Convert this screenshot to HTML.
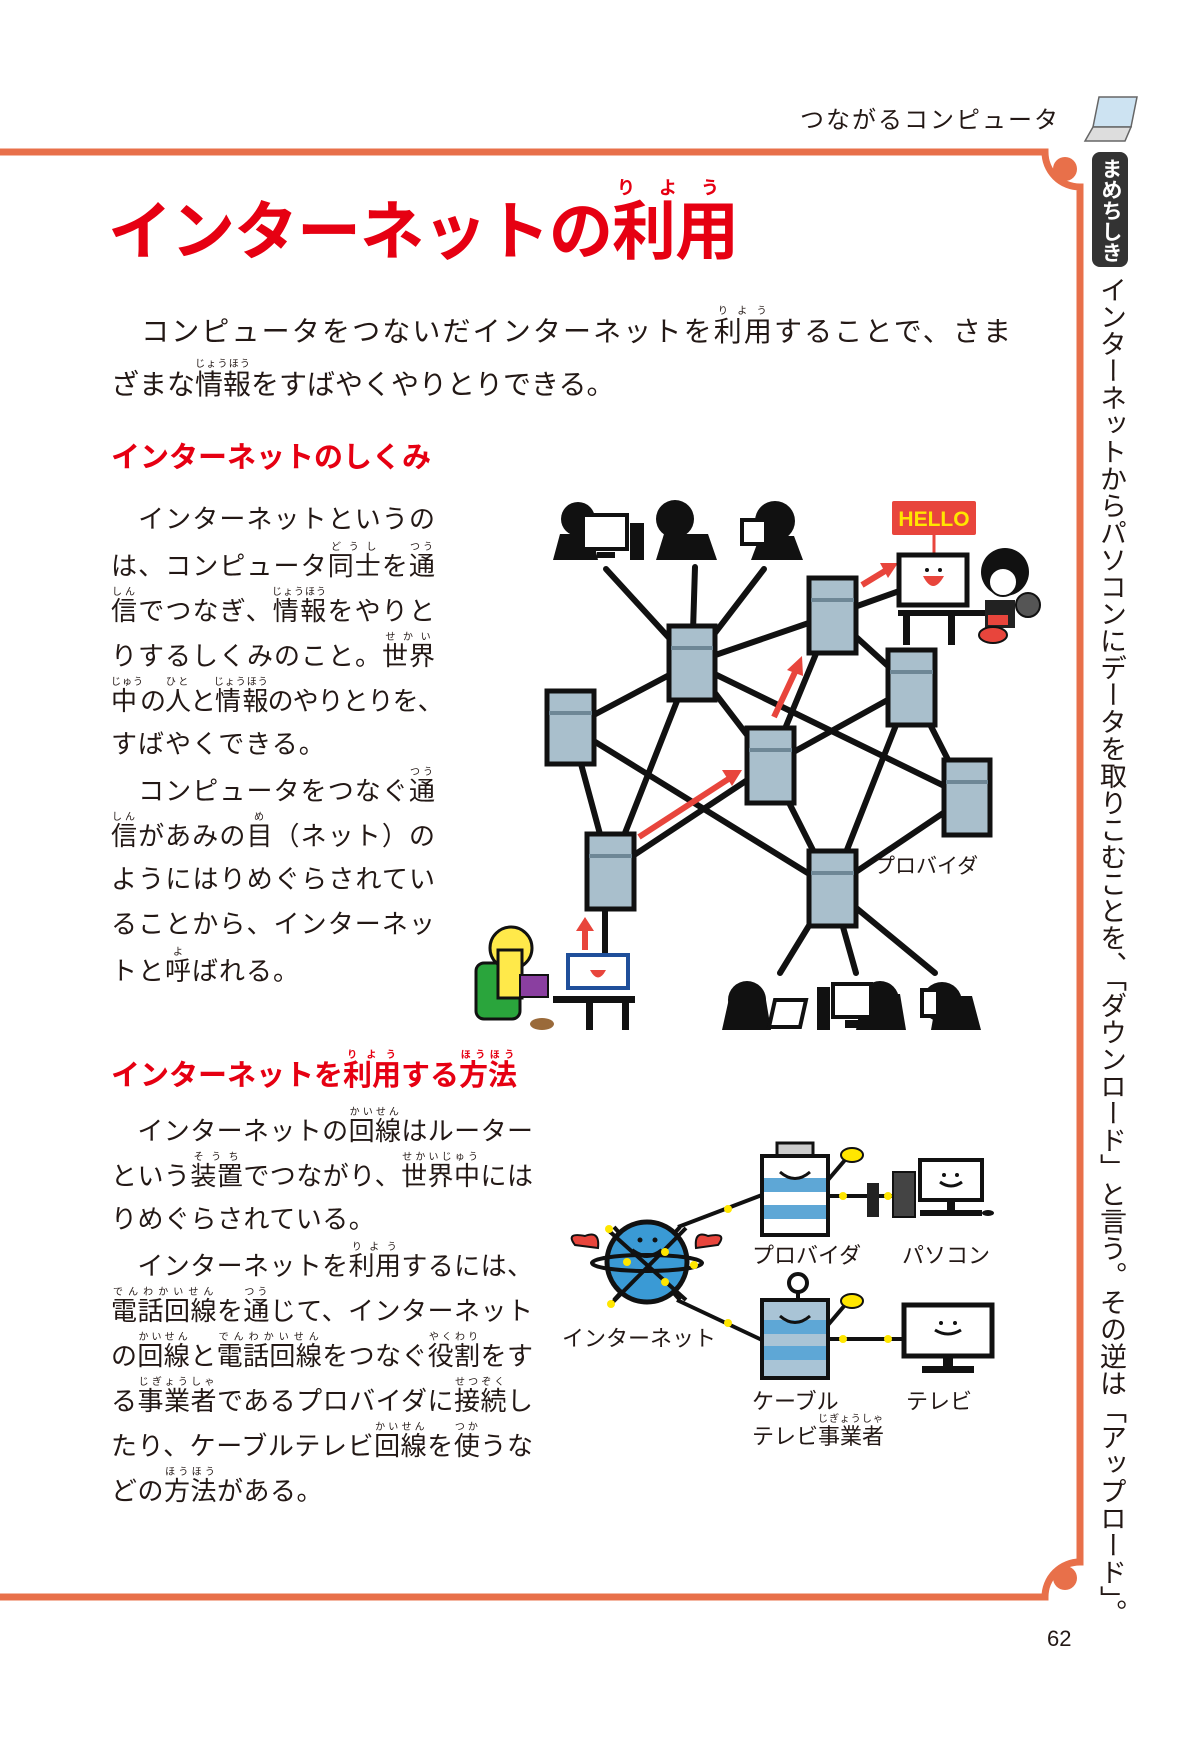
<!DOCTYPE html>
<html><head><meta charset="utf-8">
<style>
html,body{margin:0;padding:0;background:#fff;}
body{width:1200px;height:1749px;position:relative;overflow:hidden;font-family:"Liberation Sans","Noto Sans CJK JP",sans-serif;color:#231815;}
.a{position:absolute;white-space:nowrap;}
rt{font-size:10px;letter-spacing:1px;}
.t{font-size:26px;line-height:45px;letter-spacing:0;}
.j{text-align:justify;text-align-last:justify;}
.red{color:#e60012;font-weight:bold;}
</style></head><body>
<svg class="a" style="left:0;top:0" width="1200" height="1749" viewBox="0 0 1200 1749">
<path d="M0 152 H1045 A35 35 0 0 0 1080 187 V1562 A35 35 0 0 0 1045 1597 H0" fill="none" stroke="#e8704a" stroke-width="7"/>
<circle cx="1065" cy="169" r="12" fill="#e8704a"/>
<circle cx="1065" cy="1578" r="12" fill="#e8704a"/>
<rect x="1092" y="152" width="36" height="115" rx="8" fill="#333"/>
<g transform="translate(1085,95)" stroke="#666" stroke-width="1.5" fill="#cde3f2">
<path d="M14 2 L52 2 L46 32 L8 32 Z"/><path d="M8 32 L46 32 L40 46 L0 46 Z" fill="#ddd"/>
</g>
<g stroke="#111" stroke-width="6" stroke-linecap="round">
<line x1="606" y1="569" x2="692" y2="663"/><line x1="695" y1="567" x2="692" y2="663"/><line x1="764" y1="569" x2="692" y2="663"/>
<line x1="692" y1="663" x2="571" y2="727"/><line x1="692" y1="663" x2="832" y2="615"/><line x1="692" y1="663" x2="610" y2="871"/>
<line x1="692" y1="663" x2="770" y2="765"/><line x1="692" y1="663" x2="967" y2="797"/>
<line x1="571" y1="727" x2="610" y2="871"/><line x1="571" y1="727" x2="832" y2="888"/>
<line x1="610" y1="871" x2="770" y2="765"/><line x1="832" y1="615" x2="770" y2="765"/><line x1="832" y1="615" x2="911" y2="687"/>
<line x1="832" y1="615" x2="930" y2="580"/><line x1="770" y1="765" x2="911" y2="687"/><line x1="911" y1="687" x2="832" y2="888"/>
<line x1="911" y1="687" x2="967" y2="797"/><line x1="967" y1="797" x2="832" y2="888"/><line x1="770" y1="765" x2="832" y2="888"/>
<line x1="605" y1="871" x2="605" y2="955"/>
<line x1="832" y1="888" x2="780" y2="973"/><line x1="832" y1="888" x2="856" y2="973"/><line x1="832" y1="888" x2="935" y2="973"/>
</g>
<g fill="#a9bfcc" stroke="#111" stroke-width="5">
<rect x="669" y="626" width="46" height="74"/><rect x="547" y="691" width="47" height="73"/><rect x="809" y="578" width="47" height="75"/>
<rect x="888" y="650" width="47" height="75"/><rect x="747" y="728" width="47" height="75"/><rect x="944" y="760" width="46" height="75"/>
<rect x="587" y="834" width="47" height="75"/><rect x="809" y="851" width="47" height="75"/>
</g>
<g stroke="#6e8796" stroke-width="4">
<line x1="671" y1="648" x2="713" y2="648"/><line x1="549" y1="713" x2="592" y2="713"/><line x1="811" y1="600" x2="854" y2="600"/>
<line x1="890" y1="672" x2="933" y2="672"/><line x1="749" y1="750" x2="792" y2="750"/><line x1="946" y1="782" x2="988" y2="782"/>
<line x1="589" y1="856" x2="632" y2="856"/><line x1="811" y1="873" x2="854" y2="873"/>
</g>
<g stroke="#e8453c" stroke-width="6" fill="#e8453c">
<line x1="639" y1="837" x2="730" y2="778"/><polygon points="742,770 722,770 732,786" stroke="none"/>
<line x1="774" y1="717" x2="796" y2="670"/><polygon points="802,656 787,670 803,676" stroke="none"/>
<line x1="862" y1="585" x2="885" y2="571"/><polygon points="898,563 880,563 888,578" stroke="none"/>
<line x1="585" y1="950" x2="585" y2="930"/><polygon points="585,917 576,931 594,931" stroke="none"/>
</g>
<g fill="#111">
<circle cx="578" cy="519" r="17"/><polygon points="553,560 560,534 592,534 598,560"/>
<circle cx="675" cy="519" r="19"/><polygon points="656,560 664,534 708,534 717,560"/>
<circle cx="775" cy="521" r="20"/><polygon points="751,560 760,536 794,536 803,560"/>
<rect x="630" y="523" width="14" height="37"/>
<circle cx="747" cy="1000" r="19"/><polygon points="722,1030 730,994 765,994 771,1030"/>
<circle cx="880" cy="1000" r="19"/><polygon points="856,1030 863,994 900,994 906,1030"/>
<circle cx="942" cy="1002" r="20"/><polygon points="931,1030 937,996 972,996 981,1030"/>
<rect x="817" y="987" width="13" height="43"/>
</g>
<g fill="#fff" stroke="#111" stroke-width="4">
<rect x="583" y="515" width="44" height="34"/><rect x="742" y="520" width="24" height="24"/>
<polygon points="775,1000 806,1000 800,1027 769,1027"/><rect x="833" y="984" width="38" height="33"/><rect x="922" y="990" width="16" height="26"/>
</g>
<rect x="597" y="552" width="18" height="6" fill="#111"/><rect x="845" y="1020" width="14" height="8" fill="#111"/>
<rect x="892" y="501" width="84" height="34" rx="2" fill="#e8453c"/>
<text x="934" y="526" font-family="Liberation Sans" font-weight="bold" font-size="21" fill="#ffe600" text-anchor="middle">HELLO</text>
<line x1="934" y1="535" x2="934" y2="553" stroke="#e8453c" stroke-width="3"/>
<rect x="899" y="555" width="68" height="50" fill="#fff" stroke="#111" stroke-width="5"/>
<path d="M923 576 Q933 596 944 576 Z" fill="#e8453c"/><circle cx="927" cy="570" r="2" fill="#111"/><circle cx="940" cy="570" r="2" fill="#111"/>
<rect x="898" y="610" width="100" height="6" fill="#111"/><rect x="903" y="612" width="7" height="33" fill="#111"/><rect x="948" y="612" width="7" height="33" fill="#111"/>
<circle cx="1005" cy="572" r="24" fill="#111"/><ellipse cx="1003" cy="582" rx="14" ry="14" fill="#fff" stroke="#111" stroke-width="2"/>
<rect x="985" y="600" width="30" height="28" fill="#222"/><rect x="988" y="615" width="20" height="10" fill="#e8453c"/>
<ellipse cx="993" cy="635" rx="14" ry="8" fill="#e8453c" stroke="#111" stroke-width="2"/>
<circle cx="1028" cy="605" r="12" fill="#555" stroke="#111" stroke-width="2"/>
<rect x="476" y="963" width="44" height="56" rx="8" fill="#2aa53c" stroke="#111" stroke-width="3"/>
<circle cx="511" cy="948" r="21" fill="#ffe94a" stroke="#111" stroke-width="3"/>
<rect x="498" y="950" width="24" height="48" fill="#ffe94a" stroke="#111" stroke-width="3"/>
<rect x="520" y="975" width="28" height="22" fill="#8a3fa0" stroke="#111" stroke-width="2"/>
<rect x="568" y="955" width="60" height="33" fill="#fff" stroke="#1f4f9a" stroke-width="4"/>
<path d="M590 970 Q598 985 606 970 Z" fill="#e8453c"/>
<rect x="553" y="996" width="82" height="7" fill="#111"/><rect x="586" y="1000" width="7" height="30" fill="#111"/><rect x="622" y="1000" width="7" height="30" fill="#111"/>
<ellipse cx="542" cy="1024" rx="12" ry="6" fill="#9a6a3a"/>
<g stroke="#111" stroke-width="4">
<line x1="678" y1="1227" x2="762" y2="1195"/><line x1="677" y1="1300" x2="762" y2="1340"/>
<line x1="828" y1="1196" x2="893" y2="1196"/><line x1="828" y1="1339" x2="903" y2="1339"/>
<line x1="614" y1="1227" x2="680" y2="1300"/><line x1="680" y1="1227" x2="614" y2="1300"/>
</g>
<g fill="#ffe600"><circle cx="728" cy="1209" r="4"/><circle cx="728" cy="1323" r="4"/><circle cx="843" cy="1196" r="4"/><circle cx="888" cy="1196" r="4"/><circle cx="843" cy="1339" r="4"/><circle cx="888" cy="1339" r="4"/></g>
<path d="M575 1245 Q565 1232 585 1236 Q600 1230 598 1248 Z" fill="#e8453c" stroke="#111" stroke-width="2"/>
<path d="M718 1245 Q728 1232 708 1236 Q694 1230 696 1248 Z" fill="#e8453c" stroke="#111" stroke-width="2"/>
<circle cx="647" cy="1262" r="40" fill="#3a9ad5" stroke="#111" stroke-width="5"/>
<path d="M632 1250 Q647 1262 662 1250" fill="none" stroke="#111" stroke-width="4"/>
<circle cx="640" cy="1240" r="2.5" fill="#111"/><circle cx="655" cy="1240" r="2.5" fill="#111"/>
<g stroke="#111" stroke-width="4"><line x1="608" y1="1230" x2="686" y2="1300"/><line x1="686" y1="1228" x2="610" y2="1305"/><ellipse cx="647" cy="1263" rx="55" ry="8" fill="none"/></g>
<g fill="#ffe600"><circle cx="627" cy="1262" r="4"/><circle cx="665" cy="1252" r="4"/><circle cx="665" cy="1282" r="4"/><circle cx="694" cy="1265" r="4"/><circle cx="611" cy="1304" r="4"/><circle cx="609" cy="1229" r="4"/></g>
<rect x="777" y="1143" width="36" height="13" fill="#ccc" stroke="#111" stroke-width="3"/>
<rect x="762" y="1156" width="66" height="79" fill="#fff" stroke="#111" stroke-width="4"/>
<rect x="764" y="1178" width="62" height="14" fill="#5ea7d6"/><rect x="764" y="1205" width="62" height="14" fill="#5ea7d6"/>
<path d="M780 1172 Q795 1185 810 1172" fill="none" stroke="#111" stroke-width="3"/>
<line x1="828" y1="1180" x2="845" y2="1160" stroke="#111" stroke-width="4"/><ellipse cx="852" cy="1155" rx="11" ry="7" fill="#ffe600" stroke="#111" stroke-width="2"/>
<circle cx="798" cy="1283" r="9" fill="#fff" stroke="#111" stroke-width="4"/><line x1="798" y1="1292" x2="798" y2="1300" stroke="#111" stroke-width="4"/>
<rect x="762" y="1300" width="66" height="78" fill="#a9c4d6" stroke="#111" stroke-width="4"/>
<rect x="764" y="1320" width="62" height="14" fill="#5ea7d6"/><rect x="764" y="1346" width="62" height="14" fill="#5ea7d6"/>
<path d="M780 1316 Q795 1329 810 1316" fill="none" stroke="#111" stroke-width="3"/>
<line x1="828" y1="1325" x2="845" y2="1305" stroke="#111" stroke-width="4"/><ellipse cx="852" cy="1301" rx="11" ry="7" fill="#ffe600" stroke="#111" stroke-width="2"/>
<rect x="867" y="1183" width="12" height="34" fill="#222"/><rect x="893" y="1172" width="22" height="45" fill="#444" stroke="#111" stroke-width="2"/>
<rect x="920" y="1160" width="62" height="40" fill="#fff" stroke="#111" stroke-width="4"/>
<rect x="947" y="1200" width="8" height="10" fill="#111"/><rect x="920" y="1210" width="62" height="6" fill="#111"/><ellipse cx="988" cy="1213" rx="6" ry="3" fill="#111"/>
<circle cx="944" cy="1175" r="2" fill="#111"/><circle cx="957" cy="1175" r="2" fill="#111"/><path d="M940 1182 Q951 1190 962 1182" fill="none" stroke="#111" stroke-width="3"/>
<rect x="904" y="1305" width="88" height="51" fill="#fff" stroke="#111" stroke-width="5"/>
<rect x="943" y="1356" width="10" height="10" fill="#111"/><rect x="922" y="1366" width="52" height="7" fill="#111"/>
<circle cx="941" cy="1323" r="2" fill="#111"/><circle cx="955" cy="1323" r="2" fill="#111"/><path d="M935 1330 Q948 1338 961 1330" fill="none" stroke="#111" stroke-width="3"/>
</svg>

<div class="a" style="left:800px;top:100px;font-size:24px;letter-spacing:2px;">つながるコンピュータ</div>
<div class="a" style="left:1099px;top:158px;width:22px;writing-mode:vertical-rl;font-size:21px;color:#fff;font-weight:bold;line-height:22px;">まめちしき</div>
<div class="a" style="left:1095px;top:276px;width:32px;writing-mode:vertical-rl;font-size:27px;line-height:32px;letter-spacing:0;">インターネットからパソコンにデータを取りこむことを、「ダウンロード」と言う。その逆は「アップロード」。</div>

<div class="a red" style="left:108px;top:178px;font-size:64px;line-height:80px;letter-spacing:-1px;">インターネットの<ruby>利用<rt style="font-size:18px;letter-spacing:14px">りよう</rt></ruby></div>

<div class="a j" style="left:111px;top:306px;width:900px;font-size:28px;line-height:50px;">　コンピュータをつないだインターネットを<ruby>利用<rt>りよう</rt></ruby>することで、さま</div>
<div class="a" style="left:111px;top:359px;font-size:28px;line-height:50px;">ざまな<ruby>情報<rt>じょうほう</rt></ruby>をすばやくやりとりできる。</div>

<div class="a red" style="left:111px;top:440px;font-size:29px;line-height:36px;">インターネットのしくみ</div>

<div class="a t j" style="left:111px;top:497px;width:324px;">　インターネットというの</div>
<div class="a t j" style="left:111px;top:542px;width:324px;">は、コンピュータ<ruby>同士<rt>どうし</rt></ruby>を<ruby>通<rt>つう</rt></ruby></div>
<div class="a t j" style="left:111px;top:587px;width:324px;"><ruby>信<rt>しん</rt></ruby>でつなぎ、<ruby>情報<rt>じょうほう</rt></ruby>をやりと</div>
<div class="a t j" style="left:111px;top:632px;width:324px;">りするしくみのこと。<ruby>世界<rt>せかい</rt></ruby></div>
<div class="a t j" style="left:111px;top:677px;width:324px;letter-spacing:-1px;"><ruby>中<rt>じゅう</rt></ruby>の<ruby>人<rt>ひと</rt></ruby>と<ruby>情報<rt>じょうほう</rt></ruby>のやりとりを、</div>
<div class="a t" style="left:111px;top:722px;letter-spacing:1px;">すばやくできる。</div>
<div class="a t j" style="left:111px;top:767px;width:324px;">　コンピュータをつなぐ<ruby>通<rt>つう</rt></ruby></div>
<div class="a t j" style="left:111px;top:812px;width:324px;"><ruby>信<rt>しん</rt></ruby>があみの<ruby>目<rt>め</rt></ruby>（ネット）の</div>
<div class="a t j" style="left:111px;top:857px;width:324px;">ようにはりめぐらされてい</div>
<div class="a t j" style="left:111px;top:902px;width:324px;">ることから、インターネッ</div>
<div class="a t" style="left:111px;top:947px;letter-spacing:1px;">トと<ruby>呼<rt>よ</rt></ruby>ばれる。</div>

<div class="a red" style="left:111px;top:1050px;font-size:29px;line-height:36px;">インターネットを<ruby>利用<rt style="color:#e60012">りよう</rt></ruby>する<ruby>方法<rt style="color:#e60012">ほうほう</rt></ruby></div>

<div class="a t j" style="left:111px;top:1107px;width:422px;">　インターネットの<ruby>回線<rt>かいせん</rt></ruby>はルーター</div>
<div class="a t j" style="left:111px;top:1152px;width:422px;">という<ruby>装置<rt>そうち</rt></ruby>でつながり、<ruby>世界中<rt>せかいじゅう</rt></ruby>には</div>
<div class="a t" style="left:111px;top:1197px;letter-spacing:0.5px;">りめぐらされている。</div>
<div class="a t j" style="left:111px;top:1242px;width:422px;">　インターネットを<ruby>利用<rt>りよう</rt></ruby>するには、</div>
<div class="a t j" style="left:111px;top:1287px;width:422px;"><ruby>電話回線<rt>でんわかいせん</rt></ruby>を<ruby>通<rt>つう</rt></ruby>じて、インターネット</div>
<div class="a t j" style="left:111px;top:1332px;width:422px;">の<ruby>回線<rt>かいせん</rt></ruby>と<ruby>電話回線<rt>でんわかいせん</rt></ruby>をつなぐ<ruby>役割<rt>やくわり</rt></ruby>をす</div>
<div class="a t j" style="left:111px;top:1377px;width:422px;">る<ruby>事業者<rt>じぎょうしゃ</rt></ruby>であるプロバイダに<ruby>接続<rt>せつぞく</rt></ruby>し</div>
<div class="a t j" style="left:111px;top:1422px;width:422px;">たり、ケーブルテレビ<ruby>回線<rt>かいせん</rt></ruby>を<ruby>使<rt>つか</rt></ruby>うな</div>
<div class="a t" style="left:111px;top:1467px;letter-spacing:0.5px;">どの<ruby>方法<rt>ほうほう</rt></ruby>がある。</div>

<div class="a" style="left:874px;top:854px;font-size:21px;line-height:26px;">プロバイダ</div>
<div class="a" style="left:752px;top:1242px;font-size:22px;line-height:28px;">プロバイダ</div>
<div class="a" style="left:902px;top:1242px;font-size:22px;line-height:28px;">パソコン</div>
<div class="a" style="left:562px;top:1325px;font-size:22px;line-height:28px;">インターネット</div>
<div class="a" style="left:752px;top:1388px;font-size:22px;line-height:28px;">ケーブル</div>
<div class="a" style="left:752px;top:1414px;font-size:22px;line-height:34px;">テレビ<ruby>事業者<rt>じぎょうしゃ</rt></ruby></div>
<div class="a" style="left:906px;top:1388px;font-size:22px;line-height:28px;">テレビ</div>

<div class="a" style="left:1047px;top:1626px;font-size:22px;">62</div>
</body></html>
